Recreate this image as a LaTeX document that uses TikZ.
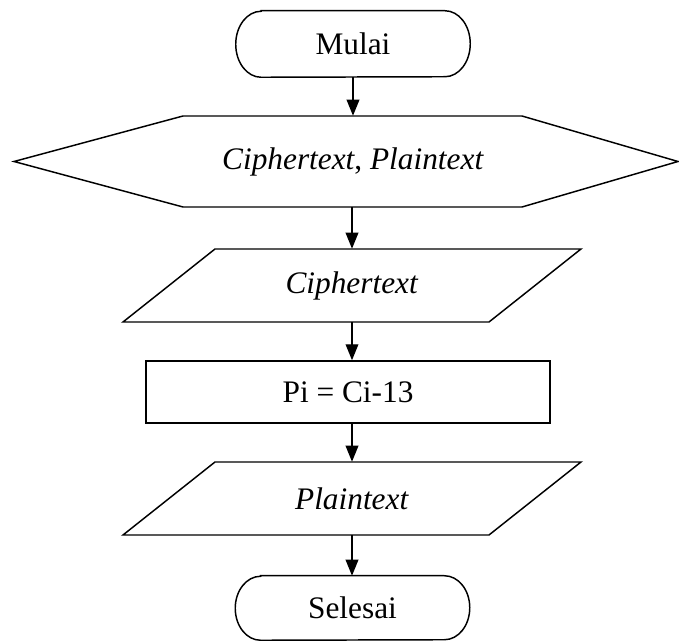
\documentclass[tikz,border=0pt]{standalone}
\usepackage{fontspec}
\setmainfont{Liberation Serif}
\usetikzlibrary{arrows.meta,calc}
\begin{document}
\begin{tikzpicture}[x=0.75pt,y=-0.75pt,
  every node/.style={font=\fontsize{23.5}{28}\selectfont, inner sep=0pt},
  shp/.style={line width=1.1pt, line join=miter},
  arr/.style={line width=1.1pt, -{Triangle[length=12pt,width=9.5pt]}},
  boxnode/.style={draw, line width=1.1pt, minimum width=303pt, minimum height=46.5pt}
]
\useasboundingbox (0,0) rectangle (679,641);

% terminator Mulai
\node[minimum width=175.5pt, minimum height=49.5pt] (mulai) at (353,44) {Mulai};
\draw[shp] ([xshift=19pt]mulai.north west) -- ([xshift=-19pt]mulai.north east)
  arc[start angle=90, end angle=-90, x radius=19pt, y radius=24.75pt]
  -- ([xshift=19pt]mulai.south west)
  arc[start angle=270, end angle=90, x radius=19pt, y radius=24.75pt] -- cycle;

% hexagon
\node[minimum height=68.25pt] (hex) at (353,161.5) {\textit{Ciphertext}, \textit{Plaintext}};
\draw[shp] (14,161.5) -- (183,116) -- (522,116) -- (678,161.5) -- (522,207) -- (183,207) -- cycle;

% parallelogram 1
\node[minimum height=54.75pt] (in1) at (352,285.5) {\textit{Ciphertext}};
\draw[shp] (215,249) -- (581,249) -- (489,322) -- (123,322) -- cycle;

% process
\node[boxnode] (proc) at (348,392) {Pi = Ci-13};

% parallelogram 2
\node[minimum height=54.75pt] (out1) at (352,498.5) {\textit{Plaintext}};
\draw[shp] (215,462) -- (581,462) -- (489,535) -- (123,535) -- cycle;

% terminator Selesai
\node[minimum width=175.5pt, minimum height=48pt] (selesai) at (352.5,608) {Selesai};
\draw[shp] ([xshift=19pt]selesai.north west) -- ([xshift=-19pt]selesai.north east)
  arc[start angle=90, end angle=-90, x radius=19pt, y radius=24pt]
  -- ([xshift=19pt]selesai.south west)
  arc[start angle=270, end angle=90, x radius=19pt, y radius=24pt] -- cycle;

% connectors
\draw[arr] (mulai.south) -- (mulai.south |- hex.north);
\draw[arr] (in1.north |- hex.south) -- (in1.north);
\draw[arr] (in1.south) -- (in1.south |- proc.north);
\draw[arr] (proc.south -| out1.north) -- (out1.north);
\draw[arr] (out1.south) -- (out1.south |- selesai.north);
\end{tikzpicture}
\end{document}
